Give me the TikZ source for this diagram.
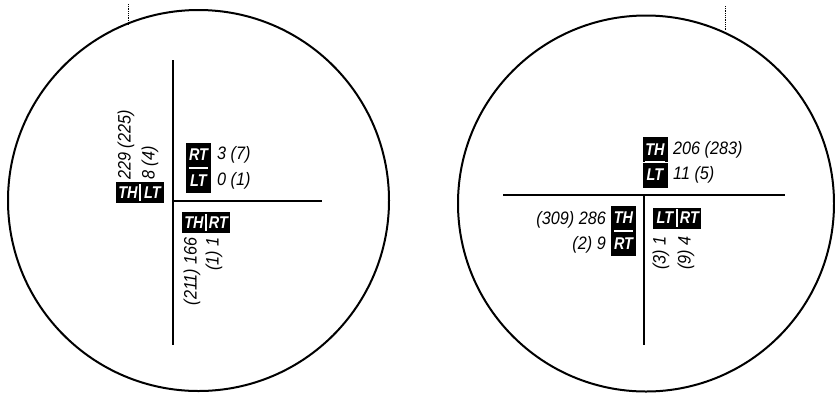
\documentclass[tikz,border=0pt]{standalone}
\usepackage{fontspec}
\setmainfont{Liberation Sans}
\newfontfamily\tagfont{Liberation Sans}[FakeStretch=0.85]
\newfontfamily\numfont{Liberation Sans}[FakeStretch=0.9]
\tikzset{
  ring/.style={circle, draw, line width=2pt, inner sep=0pt},
  axis/.style={line width=2pt},
  num/.style={font=\numfont\fontsize{18pt}{19pt}\selectfont\itshape, inner sep=0pt},
  tag/.style={fill=black, text=white, inner sep=0pt,
    font=\tagfont\fontsize{17pt}{17pt}\selectfont\bfseries\itshape},
  htag/.style={tag, minimum width=24pt, minimum height=21pt},
  vtag/.style={tag, minimum width=25pt, minimum height=25pt},
  sep/.style={white, line width=1.6pt},
  speck/.style={densely dotted, line width=0.8pt}
}
\begin{document}
\begin{tikzpicture}[x=1pt, y=-1pt]
\useasboundingbox (0,0) rectangle (835,392);
% circles
\node[ring, minimum size=381pt] (LC) at (198.5,200.5) {};
\node[ring, minimum size=376pt] (RC) at (646,203.5) {};
% specks
\coordinate (s1) at (128,4); \coordinate (s2) at (128,25);
\coordinate (s3) at (725,6); \coordinate (s4) at (725,30);
\draw[speck] (s1) -- (s2);
\draw[speck] (s3) -- (s4);
% left axes
\coordinate (LVt) at (173,60); \coordinate (LVb) at (173,345);
\coordinate (LO) at (173,201); \coordinate (LHr) at (322,201);
\draw[axis] (LVt) -- (LVb);
\draw[axis] (LO) -- (LHr);
% right axes
\coordinate (RHl) at (503,195); \coordinate (RHr) at (785,195);
\coordinate (RO) at (644,195); \coordinate (RVb) at (644,345);
\draw[axis] (RHl) -- (RHr);
\draw[axis] (RO) -- (RVb);

% ---- left: TH|LT upper-left
\node[htag] (a1) at (128,192.5) {TH};
\node[htag, anchor=west] (a2) at (a1.east) {LT};
\draw[sep] ([yshift=-2pt]a1.north east) -- ([yshift=2pt]a1.south east);
\node[num, rotate=90, anchor=west] (a3) at (126,180) {229 (225)};
\node[num, rotate=90, anchor=west] (a4) at (150,180) {8 (4)};

% ---- left: RT/LT upper-right
\node[vtag] (b1) at (198.5,155) {RT};
\node[vtag] (b2) at (198.5,180.5) {LT};
\draw[sep] ([xshift=3pt]b1.south west) -- ([xshift=-3pt]b1.south east);
\node[num, anchor=west] (b3) at (217,155) {3 (7)};
\node[num, anchor=west] (b4) at (217,180.5) {0 (1)};

% ---- left: TH|RT lower-right
\node[htag] (c1) at (194,222.5) {TH};
\node[htag, anchor=west] (c2) at (c1.east) {RT};
\draw[sep] ([yshift=-2pt]c1.north east) -- ([yshift=2pt]c1.south east);
\node[num, rotate=90, anchor=east] (c3) at (192,237) {(211) 166};
\node[num, rotate=90, anchor=east] (c4) at (214,237) {(1) 1};

% ---- right: TH/LT upper
\node[vtag] (d1) at (655,149.5) {TH};
\node[vtag] (d2) at (655,175) {LT};
\draw[sep] ([xshift=3pt]d1.south west) -- ([xshift=-3pt]d1.south east);
\node[num, anchor=west] (d3) at (673,150) {206 (283)};
\node[num, anchor=west] (d4) at (673,175) {11 (5)};

% ---- right: TH/RT lower-left
\node[vtag] (e1) at (623.5,218) {TH};
\node[vtag] (e2) at (623.5,243.5) {RT};
\draw[sep] ([xshift=3pt]e1.south west) -- ([xshift=-3pt]e1.south east);
\node[num, anchor=east] (e3) at (606,220) {(309) 286};
\node[num, anchor=east] (e4) at (606,245) {(2) 9};

% ---- right: LT|RT lower-right
\node[htag] (f1) at (665,218) {LT};
\node[htag, anchor=west] (f2) at (f1.east) {RT};
\draw[sep] ([yshift=-2pt]f1.north east) -- ([yshift=2pt]f1.south east);
\node[num, rotate=90, anchor=east] (f3) at (661,236) {(3) 1};
\node[num, rotate=90, anchor=east] (f4) at (686,236) {(9) 4};
\end{tikzpicture}
\end{document}
